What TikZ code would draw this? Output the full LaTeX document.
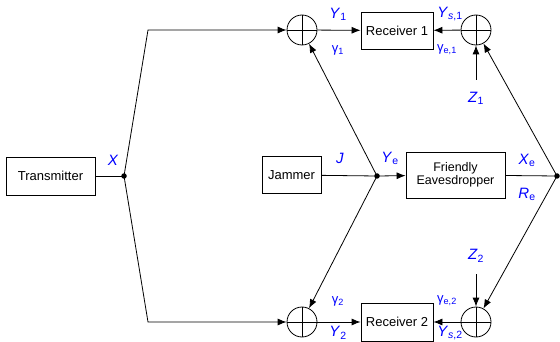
\documentclass[tikz,border=0pt]{standalone}
\usepackage{fontspec}
\setmainfont{Liberation Sans}
\usetikzlibrary{arrows.meta}
\tikzset{
  x=1pt, y=-1pt,
  blk/.style={draw, thick, rectangle, inner sep=2pt, font=\fontsize{13}{14}\selectfont, align=center},
  adder/.style={draw, thick, circle, minimum size=30pt, inner sep=0pt,
    path picture={\draw[thick] (path picture bounding box.north) -- (path picture bounding box.south)
      (path picture bounding box.west) -- (path picture bounding box.east);}},
  junc/.style={circle, fill, minimum size=5.5pt, inner sep=0pt},
  lbl/.style={text=blue, font=\fontsize{15}{16}\selectfont, inner sep=0pt},
  glbl/.style={text=blue, font=\fontsize{13}{14}\selectfont, inner sep=0pt},
  wire/.style={thick},
  sig/.style={thick, -{Latex[length=9pt,width=7pt]}}
}
\newcommand{\sv}[2]{\textit{#1}\textsubscript{#2}}
\begin{document}
\begin{tikzpicture}
\useasboundingbox (0,0) rectangle (560,342);
% blocks
\node[blk, minimum width=89pt, minimum height=38pt] (tx) at (50.5,176) {Transmitter};
\node[blk, minimum width=59pt, minimum height=37pt] (jam) at (291.5,175) {Jammer};
\node[blk, minimum width=99pt, minimum height=46pt, font=\fontsize{12.5}{13.5}\selectfont] (fe) at (455.5,175) {Friendly\\Eavesdropper};
\node[blk, minimum width=72pt, minimum height=37pt] (r1) at (397,30.5) {Receiver 1};
\node[blk, minimum width=72pt, minimum height=38pt] (r2) at (397,322) {Receiver 2};
% adders
\node[adder] (a1) at (302,30) {};
\node[adder] (a1r) at (476,30) {};
\node[adder] (a2) at (302,322) {};
\node[adder] (a2r) at (476,322) {};
% junctions and bends
\node[junc] (d1) at (124,176) {};
\node[junc] (d2) at (377,176) {};
\node[junc] (d3) at (557,176) {};
\coordinate (c1) at (148,30);
\coordinate (c2) at (148,322);
\coordinate (z1) at (476,80);
\coordinate (z2) at (476,274);
% connectors
\draw[wire] (tx.east) -- (d1.center);
\draw[sig] (d1.center) -- (c1) -- (a1);
\draw[sig] (d1.center) -- (c2) -- (a2);
\draw[sig] (a1) -- (r1);
\draw[sig] (a2) -- (r2);
\draw[sig] (a1r) -- (r1);
\draw[sig] (a2r) -- (r2);
\draw[wire] (jam) -- (d2.center);
\draw[sig] (d2.center) -- (fe);
\draw[sig] (d2.center) -- (a1);
\draw[sig] (d2.center) -- (a2);
\draw[wire] (fe) -- (d3.center);
\draw[sig] (d3.center) -- (a1r);
\draw[sig] (d3.center) -- (a2r);
\draw[sig] (z1) -- (a1r);
\draw[sig] (z2) -- (a2r);
% labels
\node[lbl] (lx) at (113,160) {\textit{X}};
\node[lbl] (lj) at (340,158) {\textit{J}};
\node[lbl] (lye) at (390,158) {\sv{Y}{e}};
\node[lbl] (lxe) at (527,160) {\sv{X}{e}};
\node[lbl] (lre) at (527,194) {\sv{R}{e}};
\node[lbl] (ly1) at (338,14) {\sv{Y}{1}};
\node[glbl] (lg1) at (338,50) {γ\textsubscript{1}};
\node[lbl] (lys1) at (450,14) {\sv{Y}{\textit{s},1}};
\node[glbl] (lge1) at (447,50) {γ\textsubscript{e,1}};
\node[lbl] (lz1) at (476,98) {\sv{Z}{1}};
\node[lbl] (lz2) at (476,256) {\sv{Z}{2}};
\node[glbl] (lg2) at (338,301) {γ\textsubscript{2}};
\node[lbl] (ly2) at (338,333) {\sv{Y}{2}};
\node[glbl] (lge2) at (447,301) {γ\textsubscript{e,2}};
\node[lbl] (lys2) at (450,333) {\sv{Y}{\textit{s},2}};
\end{tikzpicture}
\end{document}
